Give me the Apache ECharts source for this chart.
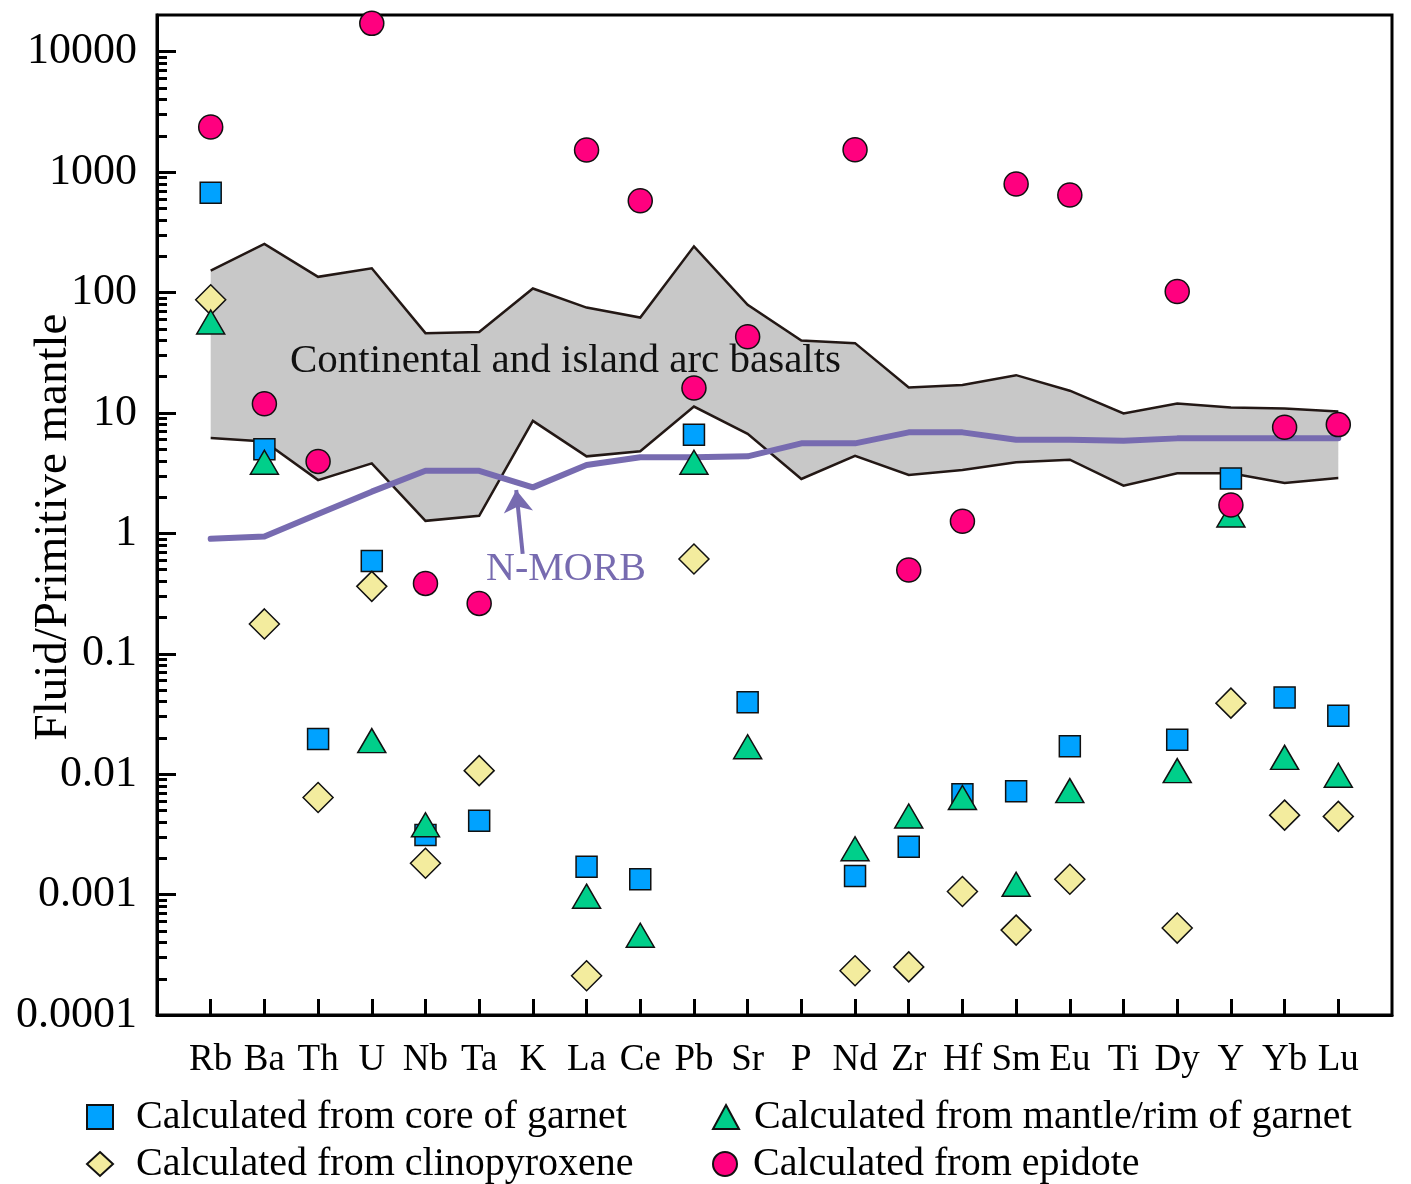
<!DOCTYPE html>
<html>
<head>
<meta charset="utf-8">
<script src="https://cdn.jsdelivr.net/npm/echarts@6/dist/echarts.min.js"></script>
<style>
  html, body { margin: 0; padding: 0; background: #fff; }
  #chart { width: 1411px; height: 1184px; }
</style>
</head>
<body>
<div id="chart"></div>
<script>
// 元素（x轴类别）
var elements = ['Rb', 'Ba', 'Th', 'U', 'Nb', 'Ta', 'K', 'La', 'Ce', 'Pb', 'Sr', 'P', 'Nd', 'Zr', 'Hf', 'Sm', 'Eu', 'Ti', 'Dy', 'Y', 'Yb', 'Lu'];

// y轴刻度标签
var tickLabels = ['0.0001', '0.001', '0.01', '0.1', '1', '10', '100', '1000', '10000'];

// 流体/原始地幔
var garnetCore = [675, 5.0, 0.0196, 0.59, 0.00313, 0.0041, null, 0.0017, 0.00134, 6.6, 0.0395, null, 0.00143, 0.0025, 0.0068, 0.0072, 0.0171, null, 0.0193, 2.86, 0.0434, 0.0306];
var garnetRim = [57, 3.9, null, 0.019, 0.0038, null, null, 0.00097, 0.00046, 3.9, 0.0169, null, 0.0024, 0.0045, 0.0064, 0.00122, 0.0073, null, 0.0107, 1.42, 0.0138, 0.0098];
var clinopyroxene = [87, 0.177, 0.0064, 0.363, 0.00182, 0.0107, null, 0.000212, null, 0.612, null, null, 0.000233, 0.000251, 0.00106, 0.000507, 0.00134, null, 0.000527, 0.0389, 0.00457, 0.00446];
var epidote = [2370, 11.9, 3.96, 17200, 0.384, 0.262, null, 1527, 579, 16.1, 43, null, 1535, 0.496, 1.26, 796, 646, null, 102, 1.72, 7.6, 8.0];

// N-MORB
var nMorb = [0.90, 0.94, 1.45, 2.22, 3.31, 3.31, 2.41, 3.69, 4.28, 4.28, 4.36, 5.59, 5.59, 6.9, 6.9, 5.99, 5.99, 5.88, 6.15, 6.15, 6.15, 6.15];

// 大陆及岛弧玄武岩范围
var arcUpper = [152, 253, 135, 159, 46, 47, 108, 75, 62, 242, 79, 40, 38, 16.3, 17.1, 20.6, 15.3, 9.9, 12.0, 11.1, 10.9, 10.3];
var arcLower = [6.2, 5.8, 2.77, 3.81, 1.27, 1.40, 8.6, 4.36, 4.8, 11.3, 6.7, 2.83, 4.41, 3.05, 3.36, 3.89, 4.09, 2.49, 3.15, 3.15, 2.62, 2.88];

var FONT = "'Liberation Serif', 'Times New Roman', serif";
var PURPLE = '#776bb0';

function toPts (arr) {
  var out = [];
  arr.forEach(function (v, i) {
    if (v != null) out.push([i, Math.log10(v)]);
  });
  return out;
}

var majorTicks = [];
for (var k = -4; k <= 4; k++) majorTicks.push(k);
var minorTicks = [];
for (var e = -4; e <= 4; e++) {
  for (var m = 2; m <= 9; m++) {
    var lv = Math.log10(m * Math.pow(10, e));
    if (lv < 4.3) minorTicks.push(lv);
  }
}
var catTicks = elements.map(function (d, i) { return i; });

// 范围带：多边形 + 上下边界线
function renderBand (params, api) {
  var up = [], low = [];
  for (var i = 0; i < arcUpper.length; i++) {
    up.push(api.coord([i, Math.log10(arcUpper[i])]));
    low.push(api.coord([i, Math.log10(arcLower[i])]));
  }
  var poly = up.concat(low.slice().reverse());
  return {
    type: 'group',
    children: [
      { type: 'polygon', shape: { points: poly }, style: { fill: '#c8c8c8' } },
      { type: 'polyline', shape: { points: up }, style: { stroke: '#231815', lineWidth: 2.5, fill: null } },
      { type: 'polyline', shape: { points: low }, style: { stroke: '#231815', lineWidth: 2.5, fill: null } }
    ]
  };
}

function legendItem (name, left, top, pad) {
  return {
    orient: 'horizontal',
    left: left,
    top: top,
    padding: 0,
    itemWidth: 26,
    itemHeight: 24,
    textStyle: { fontSize: 40, fontFamily: FONT, color: '#000', padding: [0, 0, 0, pad] },
    data: [name]
  };
}

var chart = echarts.init(document.getElementById('chart'));

var option = {
  animation: false,
  backgroundColor: '#fff',
  grid: {
    left: 157,
    right: 19,
    top: 15,
    bottom: 169,
    containLabel: false,
    outerBoundsMode: 'none',
    show: true,
    borderColor: '#000',
    borderWidth: 3
  },
  xAxis: {
    type: 'value',
    min: -1,
    max: 22,
    interval: 1,
    axisLine: { onZero: false, lineStyle: { color: '#000', width: 3 } },
    axisTick: { inside: true, length: 16, customValues: catTicks, lineStyle: { color: '#000', width: 3 } },
    axisLabel: {
      customValues: catTicks,
      margin: 27,
      color: '#000',
      fontSize: 37,
      fontFamily: FONT,
      formatter: function (v) { return elements[Math.round(v)]; }
    },
    splitLine: { show: false }
  },
  yAxis: [{
    type: 'value',
    min: -4,
    max: 4.305,
    name: 'Fluid/Primitive mantle',
    nameLocation: 'middle',
    nameGap: 80,
    nameMoveOverlap: false,
    nameTextStyle: { fontSize: 47, fontFamily: FONT, color: '#000', padding: [0, 24, 0, 0] },
    axisLine: { onZero: false, lineStyle: { color: '#000', width: 3 } },
    axisTick: { inside: true, length: 19, customValues: majorTicks, lineStyle: { color: '#000', width: 3 } },
    axisLabel: {
      customValues: majorTicks,
      margin: 20,
      color: '#000',
      fontSize: 44,
      fontFamily: FONT,
      formatter: function (v) { return tickLabels[Math.round(v) + 4]; }
    },
    splitLine: { show: false }
  }, {
    type: 'value',
    min: -4,
    max: 4.305,
    position: 'left',
    axisLine: { show: false, onZero: false },
    axisTick: { show: true, inside: true, length: 10, customValues: minorTicks, lineStyle: { color: '#000', width: 3 } },
    axisLabel: { show: false },
    splitLine: { show: false }
  }],
  legend: [
    legendItem('Calculated from core of garnet', 86, 1097, 18),
    legendItem('Calculated from clinopyroxene', 86, 1144, 18),
    legendItem('Calculated from mantle/rim of garnet', 712, 1097, 10),
    legendItem('Calculated from epidote', 712, 1144, 10)
  ],
  graphic: [{
    type: 'text',
    x: 290,
    y: 361,
    z: 5,
    style: {
      text: 'Continental and island arc basalts',
      fontSize: 41,
      fontFamily: FONT,
      fill: '#111',
      verticalAlign: 'middle'
    }
  }, {
    type: 'text',
    x: 486,
    y: 569,
    z: 5,
    style: {
      text: 'N-MORB',
      fontSize: 40,
      fontFamily: FONT,
      fill: PURPLE,
      verticalAlign: 'middle'
    }
  }],
  series: [
    {
      name: 'arcBand',
      type: 'custom',
      data: [[0, 0]],
      renderItem: renderBand,
      z: 1,
      silent: true
    },
    {
      name: 'N-MORB',
      type: 'line',
      data: toPts(nMorb),
      symbol: 'none',
      z: 3,
      lineStyle: { color: PURPLE, width: 6, cap: 'round', join: 'round' },
      silent: true,
      markLine: {
        silent: true,
        symbol: ['none', 'arrow'],
        symbolSize: 22,
        label: { show: false },
        lineStyle: { color: PURPLE, width: 4, type: 'solid' },
        data: [[{ coord: [5.81, -0.17] }, { coord: [5.69, 0.36] }]]
      }
    },
    {
      name: 'Calculated from core of garnet',
      type: 'scatter',
      data: toPts(garnetCore),
      symbol: 'rect',
      symbolSize: 21,
      z: 10,
      itemStyle: { color: '#00a2ff', borderColor: '#111', borderWidth: 1.5, opacity: 1 }
    },
    {
      name: 'Calculated from clinopyroxene',
      type: 'scatter',
      data: toPts(clinopyroxene),
      symbol: 'diamond',
      symbolSize: 30,
      z: 11,
      itemStyle: { color: '#f3ec9e', borderColor: '#111', borderWidth: 1.5, opacity: 1 }
    },
    {
      name: 'Calculated from mantle/rim of garnet',
      type: 'scatter',
      data: toPts(garnetRim),
      symbol: 'triangle',
      symbolSize: [28, 24],
      z: 12,
      itemStyle: { color: '#00cf8a', borderColor: '#111', borderWidth: 1.5, opacity: 1 }
    },
    {
      name: 'Calculated from epidote',
      type: 'scatter',
      data: toPts(epidote),
      symbol: 'circle',
      symbolSize: 24,
      z: 13,
      itemStyle: { color: '#ff007f', borderColor: '#111', borderWidth: 1.5, opacity: 1 }
    }
  ]
};

chart.setOption(option);
window.addEventListener('resize', function () {
  chart.resize();
});
</script>
</body>
</html>
